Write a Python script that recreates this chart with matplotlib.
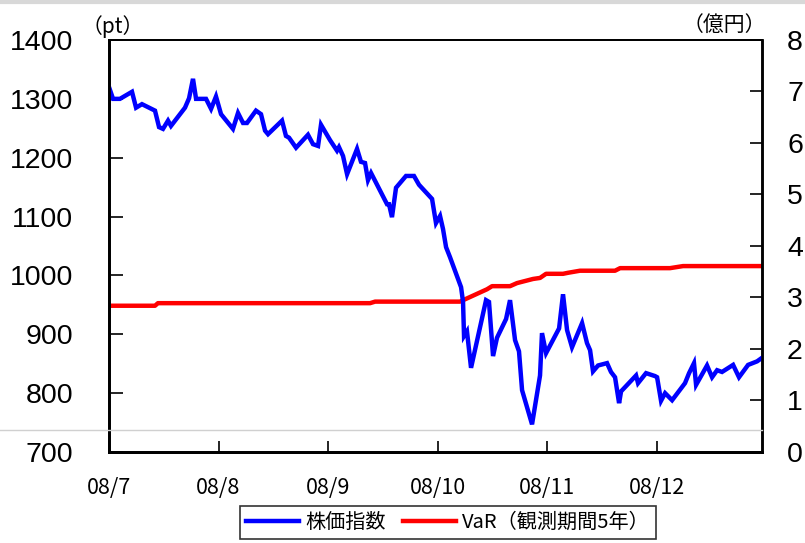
import matplotlib
matplotlib.use("Agg")
import matplotlib.pyplot as plt
from matplotlib.lines import Line2D

# x positions in months from 08/7 (0 = start of July 2008)
stock_x = [0.000, 0.037, 0.100, 0.210, 0.247, 0.301, 0.420, 0.457, 0.493, 0.539,
           0.566, 0.694, 0.731, 0.767, 0.795, 0.886, 0.932, 0.977, 1.023, 1.132,
           1.178, 1.224, 1.260, 1.342, 1.388, 1.425, 1.452, 1.580, 1.616, 1.644,
           1.708, 1.817, 1.863, 1.909, 1.936, 2.018, 2.082, 2.100, 2.137, 2.174,
           2.265, 2.301, 2.338, 2.365, 2.393, 2.539, 2.557, 2.584, 2.621, 2.712,
           2.785, 2.831, 2.950, 2.986, 3.023, 3.050, 3.078, 3.114, 3.215, 3.233,
           3.242, 3.269, 3.306, 3.443, 3.470, 3.507, 3.543, 3.626, 3.662, 3.708,
           3.744, 3.772, 3.863, 3.936, 3.954, 3.991, 4.110, 4.146, 4.183, 4.228,
           4.320, 4.365, 4.393, 4.420, 4.466, 4.548, 4.584, 4.621, 4.658, 4.676,
           4.813, 4.831, 4.904, 4.986, 5.005, 5.041, 5.078, 5.142, 5.260, 5.297,
           5.342, 5.361, 5.461, 5.507, 5.553, 5.598, 5.699, 5.753, 5.836, 5.918,
           5.963]
stock = [1320, 1300, 1300, 1312, 1285, 1291, 1280, 1252, 1249, 1263,
         1254, 1285, 1301, 1334, 1300, 1300, 1283, 1304, 1274, 1249,
         1276, 1259, 1259, 1280, 1274, 1246, 1240, 1263, 1237, 1234,
         1217, 1239, 1223, 1220, 1256, 1230, 1212, 1218, 1203, 1172,
         1215, 1193, 1191, 1162, 1174, 1121, 1121, 1099, 1149, 1169,
         1169, 1154, 1130, 1089, 1101, 1079, 1048, 1031, 980, 955,
         897, 905, 843, 958, 955, 863, 894, 926, 958, 890,
         871, 805, 747, 830, 902, 868, 910, 968, 907, 878,
         919, 885, 873, 837, 847, 851, 836, 827, 783, 803,
         830, 817, 834, 829, 827, 787, 800, 788, 817, 834,
         851, 814, 847, 827, 839, 836, 848, 827, 848, 854,
         860]

var_x = [0.000, 0.420, 0.447, 2.384, 2.430, 3.205, 3.452, 3.498, 3.662, 3.726,
         3.872, 3.936, 3.991, 4.146, 4.192, 4.301, 4.621, 4.667, 5.123, 5.242,
         5.963]
var = [2.84, 2.84, 2.89, 2.89, 2.92, 2.92, 3.16, 3.22, 3.22, 3.28,
       3.36, 3.38, 3.46, 3.46, 3.48, 3.52, 3.52, 3.57, 3.57, 3.61,
       3.61]

month_labels = ["08/7", "08/8", "08/9", "08/10", "08/11", "08/12"]

jp = ["Noto Sans CJK JP", "DejaVu Sans"]
num = "Liberation Sans"

fig = plt.figure(figsize=(8.05, 5.43), dpi=100)
ax = fig.add_axes([109/805, 1-452/543, (762-109)/805, (452-40)/543])
ax2 = ax.twinx()

l1, = ax.plot(stock_x, stock, color="#0000ff", lw=3.2, solid_joinstyle="miter")
l2, = ax2.plot(var_x, var, color="#ff0000", lw=3.2)
ax2.set_zorder(0)
ax.set_zorder(1)
ax.patch.set_visible(False)

ax.set_xlim(0, 5.963)
ax.set_ylim(700, 1400)
ax2.set_ylim(0, 8)
ax.set_yticks(range(700, 1401, 100))
ax2.set_yticks(range(0, 9))
ax.set_xticks(range(6))
ax.set_xticklabels(month_labels, family=jp, fontsize=15.5)
for t in ax.get_yticklabels():
    t.set_family(num)
    t.set_fontsize(20.5)
for t in ax2.get_yticklabels():
    t.set_family(num)
    t.set_fontsize(20.5)

ax.tick_params(axis="y", direction="in", length=10, width=1.2, pad=26, colors="black")
ax.tick_params(axis="x", direction="in", length=8, width=1.2, pad=18)
ax2.tick_params(axis="y", direction="in", length=9, width=1.2, pad=18)

for a in (ax, ax2):
    a.spines["left"].set_linewidth(2)
    a.spines["bottom"].set_linewidth(2)
    a.spines["top"].set_linewidth(1.3)
    a.spines["right"].set_linewidth(1.8)

fig.text(113/805, 1-27/543, "（pt）", family=jp, fontsize=15, ha="center", va="center")
fig.text(766/805, 1-25/543, "（億円）", family=jp, fontsize=15, ha="right", va="center")

# thin gray slide line
fig.add_artist(Line2D([0, 762/805], [1-430/543, 1-430/543], color="#d0d0d0", lw=1,
                      transform=fig.transFigure))
fig.add_artist(Line2D([0, 1], [1-2/543, 1-2/543], color="#d8d8d8", lw=3,
                      transform=fig.transFigure))

leg = fig.legend([l1, l2], ["株価指数", "VaR（観測期間5年）"], loc="upper center",
                 bbox_to_anchor=(448/805, 1-506/543), ncol=2, frameon=True,
                 fancybox=False, edgecolor="black", prop={"family": jp, "size": 14.5},
                 handlelength=2.6, columnspacing=0.9, handletextpad=0.3,
                 borderpad=0.3, borderaxespad=0)
leg.get_frame().set_linewidth(1.2)

fig.savefig("out.png", dpi=100)
